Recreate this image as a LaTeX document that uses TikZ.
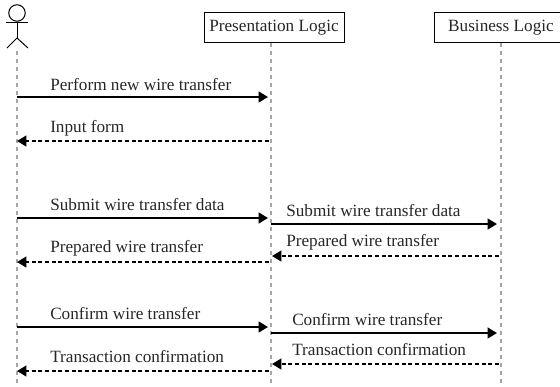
\documentclass[tikz,border=0pt]{standalone}
\usepackage{fontspec}
\setmainfont{Liberation Serif}
\usetikzlibrary{positioning}
\usetikzlibrary{arrows.meta}

\begin{document}
\begin{tikzpicture}[x=.75pt,y=-.75pt,
		sqnode/.style={rectangle, draw=black, line width=.75pt, minimum height=22pt, inner sep=0pt, text=black!85, font=\fontsize{12.9}{15}\selectfont},
		msg/.style={anchor=base west, inner sep=0pt, text=black!85, font=\fontsize{12.9}{15}\selectfont},
		lifeline/.style={draw=black!35, line width=1pt, dash pattern=on 3pt off 3pt},
		call/.style={line width=1.5pt, -{Triangle[length=7pt,width=8pt]}},
		reply/.style={line width=1.5pt, dash pattern=on 3pt off 2pt, -{Triangle[length=7pt,width=8pt]}},
		stick/.style={draw=black, line width=.75pt}]
	\useasboundingbox (0,0) rectangle (560,386);
	% actor
	\node[circle, stick, minimum size=16.5*.75pt, inner sep=0pt] (head) at (17,13) {};
	\coordinate (armL) at (6,22);
	\coordinate (armR) at (28,22);
	\coordinate (hip) at (17,38);
	\coordinate (legL) at (7,48);
	\coordinate (legR) at (28,48);
	\draw[stick] (head.south) -- (hip);
	\draw[stick] (armL) -- (armR);
	\draw[stick] (legL) -- (hip) -- (legR);
	% boxes
	\node[sqnode, minimum width=105pt] (presentation) at (274,27.5) {Presentation Logic};
	\node[sqnode, minimum width=100.5pt] (business) at (501,27.5) {Business Logic};
	% lifelines
	\coordinate (actorTop) at (17,51);
	\coordinate (actorEnd) at (17,386);
	\coordinate (presTop) at (271,43);
	\coordinate (presEnd) at (271,386);
	\coordinate (busTop) at (501,43);
	\coordinate (busEnd) at (501,386);
	\draw[lifeline] (actorTop) -- (actorEnd);
	\draw[lifeline] (presTop) -- (presEnd);
	\draw[lifeline] (busTop) -- (busEnd);
	% first block
	\coordinate (a1) at (17,97);
	\coordinate (p1) at (268,97);
	\coordinate (p2) at (269,141);
	\coordinate (a2) at (17,141);
	\draw[call] (a1) -- (p1);
	\draw[reply] (p2) -- (a2);
	\node[msg] (perform) at (50,90) {Perform new wire transfer};
	\node[msg] (input) at (50,132) {Input form};
	% second block
	\coordinate (a3) at (17,218);
	\coordinate (p3) at (268,218);
	\coordinate (p4) at (271,224);
	\coordinate (b4) at (497,224);
	\coordinate (b5) at (499,256);
	\coordinate (p5) at (272,256);
	\coordinate (p6) at (269,262);
	\coordinate (a6) at (17,262);
	\draw[call] (a3) -- (p3);
	\draw[call] (p4) -- (b4);
	\draw[reply] (b5) -- (p5);
	\draw[reply] (p6) -- (a6);
	\node[msg] (submit) at (50,210) {Submit wire transfer data};
	\node[msg] (submitB) at (286,216) {Submit wire transfer data};
	\node[msg] (prepB) at (286,246) {Prepared wire transfer};
	\node[msg] (prep) at (50,252) {Prepared wire transfer};
	% third block
	\coordinate (a7) at (17,327);
	\coordinate (p7) at (268,327);
	\coordinate (p8) at (271,333);
	\coordinate (b8) at (497,333);
	\coordinate (b9) at (499,364);
	\coordinate (p9) at (272,364);
	\coordinate (p10) at (269,371);
	\coordinate (a10) at (17,371);
	\draw[call] (a7) -- (p7);
	\draw[call] (p8) -- (b8);
	\draw[reply] (b9) -- (p9);
	\draw[reply] (p10) -- (a10);
	\node[msg] (confirm) at (50,319) {Confirm wire transfer};
	\node[msg] (confirmB) at (292,325) {Confirm wire transfer};
	\node[msg] (transB) at (292,355) {Transaction confirmation};
	\node[msg] (trans) at (50,362) {Transaction confirmation};
\end{tikzpicture}
\end{document}
